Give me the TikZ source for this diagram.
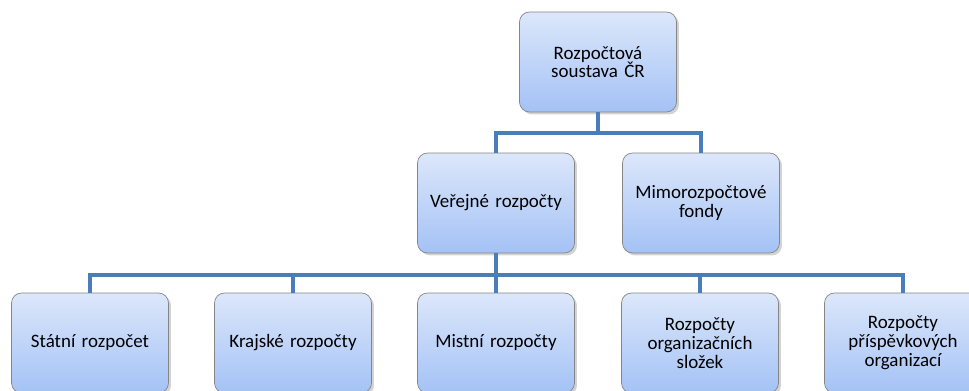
\documentclass[tikz,border=0pt]{standalone}
\usepackage{fontspec}
\setmainfont{Carlito}
\usepackage{tikz}
\usetikzlibrary{positioning,shadows}

\definecolor{boxtop}{HTML}{DCE7FA}
\definecolor{boxbottom}{HTML}{A4C2F6}
\definecolor{boxline}{HTML}{858585}
\definecolor{linkblue}{HTML}{4A7EBB}

\tikzset{
  unit/.style={draw=boxline, rounded corners=0.2cm, top color=boxtop, bottom color=boxbottom,
    minimum width=3.14cm, minimum height=2cm, align=center, text width=2.9cm,
    font=\fontsize{10.8}{10.7}\selectfont,
    drop shadow={shadow xshift=0.05cm, shadow yshift=-0.05cm, opacity=0.35}},
  link/.style={draw=linkblue, line width=2.3pt}
}

\begin{document}
\begin{tikzpicture}[x=0.02cm, y=-0.02cm]

\useasboundingbox (0,0) rectangle (969,391);
\clip (0,0) rectangle (969,391);

% top
\node[unit] (root) at (598,62) {Rozpočtová\\ soustava ČR};

% middle row
\node[unit] (verejne) at (496,203) {Veřejné rozpočty};
\node[unit] (mimo) at (701,203) {Mimorozpočtové\\ fondy};

% bottom row
\node[unit] (statni) at (90,343) {Státní rozpočet};
\node[unit] (krajske) at (293,343) {Krajské rozpočty};
\node[unit] (mistni) at (496,343) {Mistní rozpočty};
\node[unit] (slozky) at (700,343) {Rozpočty\\ organizačních\\ složek};
\node[unit] (prispevkove) at (903,343) {Rozpočty\\ příspěvkových\\ organizací};

\coordinate (bar1) at (598,133);
\coordinate (bar2) at (496,275);

\draw[link] (root.south) -- (root.south |- bar1);
\draw[link] (verejne.north) |- (bar1) -| (mimo.north);

\draw[link] (verejne.south) -- (bar2);
\draw[link] (statni.north) |- (bar2) -| (prispevkove.north);
\foreach \n in {krajske,mistni,slozky}
  \draw[link] (\n.north) -- (\n.north |- bar2);

\end{tikzpicture}
\end{document}
